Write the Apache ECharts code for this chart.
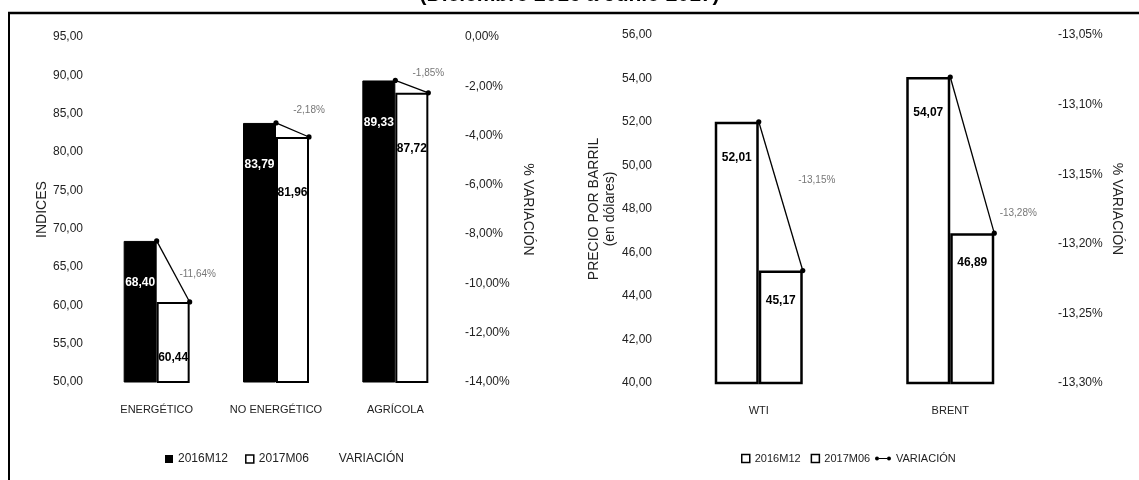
<!DOCTYPE html>
<html>
<head>
<meta charset="utf-8">
<script src="https://cdn.jsdelivr.net/npm/echarts@6/dist/echarts.min.js"></script>
<style>
html,body{margin:0;padding:0;background:#fff;}
#chart{width:1139px;height:480px;}
</style>
</head>
<body>
<div id="chart"></div>
<script>
// ---------- DATA ----------
const titleText = '(Diciembre 2016 a Junio 2017)';
const categoriesIdx = ['ENERGÉTICO', 'NO ENERGÉTICO', 'AGRÍCOLA'];
const idxDec2016 = [68.40, 83.79, 89.33];
const idxJun2017 = [60.44, 81.96, 87.72];
const idxVariation = [-11.64, -2.18, -1.85];

const categoriesOil = ['WTI', 'BRENT'];
const oilDec2016 = [52.01, 54.07];
const oilJun2017 = [45.17, 46.89];
const oilVariation = [-13.15, -13.28];

const seriesNames = ['2016M12', '2017M06', 'VARIACIÓN'];
// axis ranges (tick labels derive from these)
const idxAxis = {min: 50, max: 95, interval: 5};
const idxPctAxis = {min: -14, max: 0, interval: 2};
const oilAxis = {min: 40, max: 56, interval: 2};
const oilPctAxis = {min: -13.30, max: -13.05, interval: 0.05};

// ---------- STYLE ----------
const FONT = "'Liberation Sans', Arial, sans-serif";
const barW1 = 33, barW2 = 44;
const varLabelOffset1 = [[8, -28], [0, -27], [0, -20]];
const varLabelOffset2 = [[14, -90], [24, -20]];

const num2 = v => v.toFixed(2).replace('.', ',');
const pct2 = v => (Math.abs(v) < 1e-9 ? 0 : v).toFixed(2).replace('.', ',') + '%';

function varSeries(xi, yi, cats, a, b, v, barW, offs) {
  return {
    type: 'custom', name: 'VARIACIÓN', xAxisIndex: xi, yAxisIndex: yi, z: 10, clip: false,
    encode: {x: 0, y: [1, 2]},
    data: cats.map((c, i) => [i, a[i], b[i], v[i]]),
    renderItem: function (params, api) {
      const i = api.value(0);
      const p1 = api.coord([i, api.value(1)]);
      const q = api.coord([i, api.value(2)]);
      const p2 = [q[0] + barW, q[1]];
      const off = offs[params.dataIndex];
      return {
        type: 'group', children: [
          {type: 'line', shape: {x1: p1[0], y1: p1[1], x2: p2[0], y2: p2[1]}, style: {stroke: '#000', lineWidth: 1.3}},
          {type: 'circle', shape: {cx: p1[0], cy: p1[1], r: 2.6}, style: {fill: '#000'}},
          {type: 'circle', shape: {cx: p2[0], cy: p2[1], r: 2.6}, style: {fill: '#000'}},
          {type: 'text', x: p2[0] + off[0], y: p2[1] + off[1],
            style: {text: pct2(api.value(3)), fill: '#777', font: '10px ' + FONT, align: 'center', verticalAlign: 'middle'}}
        ]
      };
    }
  };
}

const axisLabelStyle = {color: '#222', fontSize: 12, fontFamily: FONT};
const nameStyle = {color: '#222', fontSize: 14, fontFamily: FONT};

const option = {
  animation: false,
  backgroundColor: '#fff',
  textStyle: {fontFamily: FONT},
  graphic: [
    {type: 'text', left: 'center', top: -15, style: {text: titleText, font: 'bold 21px ' + FONT, fill: '#000'}},
    {type: 'rect', shape: {x: 0, y: 12, width: 1139, height: 4}, style: {fill: '#fff'}, z: 1},
    {type: 'line', shape: {x1: 8, y1: 13, x2: 1139, y2: 13}, style: {stroke: '#000', lineWidth: 2.5}, z: 2},
    {type: 'line', shape: {x1: 9, y1: 12, x2: 9, y2: 480}, style: {stroke: '#000', lineWidth: 2}, z: 2}
  ],
  grid: [
    {left: 97, top: 37, width: 358, height: 345},
    {left: 663, top: 35, width: 383, height: 348}
  ],
  legend: [
    {left: 160, top: 448, itemWidth: 8, itemHeight: 8, itemGap: 17,
      textStyle: {fontSize: 12, color: '#222', fontFamily: FONT},
      data: [
        {name: seriesNames[0], icon: 'rect', itemStyle: {color: '#000', borderWidth: 0}},
        {name: seriesNames[1], icon: 'rect', itemStyle: {color: '#fff', borderColor: '#000', borderWidth: 1.5}},
        {name: seriesNames[2], icon: 'rect', itemStyle: {color: 'rgba(0,0,0,0)', borderWidth: 0}}
      ]},
    {left: 736, top: 448, itemWidth: 8, itemHeight: 8, itemGap: 10,
      textStyle: {fontSize: 11, color: '#222', fontFamily: FONT},
      data: [
        {name: seriesNames[0], icon: 'rect', itemStyle: {color: '#fff', borderColor: '#000', borderWidth: 1.5}},
        {name: seriesNames[1], icon: 'rect', itemStyle: {color: '#fff', borderColor: '#000', borderWidth: 1.5}}
      ]},
    {left: 870, top: 448, itemWidth: 16, itemHeight: 6, itemGap: 4,
      textStyle: {fontSize: 11, color: '#222', fontFamily: FONT},
      data: [
        {name: seriesNames[2], icon: 'path://M0,4 a2.5,2.5 0 1,1 5,0 a2.5,2.5 0 1,1 -5,0 Z M5,3.5 L15,3.5 L15,4.5 L5,4.5 Z M15,4 a2.5,2.5 0 1,1 5,0 a2.5,2.5 0 1,1 -5,0 Z',
          itemStyle: {color: '#000'}}
      ]}
  ],
  xAxis: [
    {type: 'category', gridIndex: 0, data: categoriesIdx,
      axisLine: {show: false}, axisTick: {show: false},
      axisLabel: {margin: 22, fontSize: 11, interval: 0, color: '#222', fontFamily: FONT}},
    {type: 'category', gridIndex: 1, data: categoriesOil,
      axisLine: {show: false}, axisTick: {show: false},
      axisLabel: {margin: 22, fontSize: 11, interval: 0, color: '#222', fontFamily: FONT}}
  ],
  yAxis: [
    {type: 'value', gridIndex: 0, position: 'left', min: idxAxis.min, max: idxAxis.max, interval: idxAxis.interval,
      splitLine: {show: false}, axisLine: {show: false}, axisTick: {show: false},
      axisLabel: Object.assign({margin: 14, formatter: v => num2(v)}, axisLabelStyle),
      name: 'INDICES', nameLocation: 'middle', nameGap: 48, nameRotate: 90, nameTextStyle: nameStyle},
    {type: 'value', gridIndex: 0, position: 'right', min: idxPctAxis.min, max: idxPctAxis.max, interval: idxPctAxis.interval,
      splitLine: {show: false}, axisLine: {show: false}, axisTick: {show: false},
      axisLabel: Object.assign({margin: 10, formatter: v => pct2(v)}, axisLabelStyle),
      name: '% VARIACIÓN', nameLocation: 'middle', nameGap: 66, nameRotate: -90, nameTextStyle: nameStyle},
    {type: 'value', gridIndex: 1, position: 'left', min: oilAxis.min, max: oilAxis.max, interval: oilAxis.interval,
      splitLine: {show: false}, axisLine: {show: false}, axisTick: {show: false},
      axisLabel: Object.assign({margin: 11, formatter: v => num2(v)}, axisLabelStyle),
      name: 'PRECIO POR BARRIL\n(en dólares)', nameLocation: 'middle', nameGap: 40, nameRotate: 90,
      nameTextStyle: Object.assign({lineHeight: 16}, nameStyle)},
    {type: 'value', gridIndex: 1, position: 'right', min: oilPctAxis.min, max: oilPctAxis.max, interval: oilPctAxis.interval,
      splitLine: {show: false}, axisLine: {show: false}, axisTick: {show: false},
      axisLabel: Object.assign({margin: 12, formatter: v => pct2(v)}, axisLabelStyle),
      name: '% VARIACIÓN', nameLocation: 'middle', nameGap: 64, nameRotate: -90, nameTextStyle: nameStyle}
  ],
  series: [
    {type: 'bar', name: seriesNames[0], xAxisIndex: 0, yAxisIndex: 0, data: idxDec2016, barWidth: barW1, barGap: '0%',
      itemStyle: {color: '#000', borderColor: '#000', borderWidth: 1},
      label: {show: true, position: 'insideTop', distance: 36, formatter: p => num2(p.value), color: '#fff', fontWeight: 'bold', fontSize: 12, fontFamily: FONT}},
    {type: 'bar', name: seriesNames[1], xAxisIndex: 0, yAxisIndex: 0, data: idxJun2017, barWidth: barW1, barGap: '0%',
      itemStyle: {color: '#fff', borderColor: '#000', borderWidth: 2},
      label: {show: true, position: 'insideTop', distance: 50, formatter: p => num2(p.value), color: '#000', fontWeight: 'bold', fontSize: 12, fontFamily: FONT}},
    varSeries(0, 0, categoriesIdx, idxDec2016, idxJun2017, idxVariation, barW1, varLabelOffset1),
    {type: 'bar', name: seriesNames[0], xAxisIndex: 1, yAxisIndex: 2, data: oilDec2016, barWidth: barW2, barGap: '0%',
      itemStyle: {color: '#fff', borderColor: '#000', borderWidth: 2.5},
      label: {show: true, position: 'insideTop', distance: 30, formatter: p => num2(p.value), color: '#000', fontWeight: 'bold', fontSize: 12, fontFamily: FONT}},
    {type: 'bar', name: seriesNames[1], xAxisIndex: 1, yAxisIndex: 2, data: oilJun2017, barWidth: barW2, barGap: '0%',
      itemStyle: {color: '#fff', borderColor: '#000', borderWidth: 2.5},
      label: {show: true, position: 'insideTop', distance: 24, formatter: p => num2(p.value), color: '#000', fontWeight: 'bold', fontSize: 12, fontFamily: FONT}},
    varSeries(1, 2, categoriesOil, oilDec2016, oilJun2017, oilVariation, barW2, varLabelOffset2)
  ]
};

const chart = echarts.init(document.getElementById('chart'), null, {renderer: 'canvas'});
chart.setOption(option);
</script>
</body>
</html>
